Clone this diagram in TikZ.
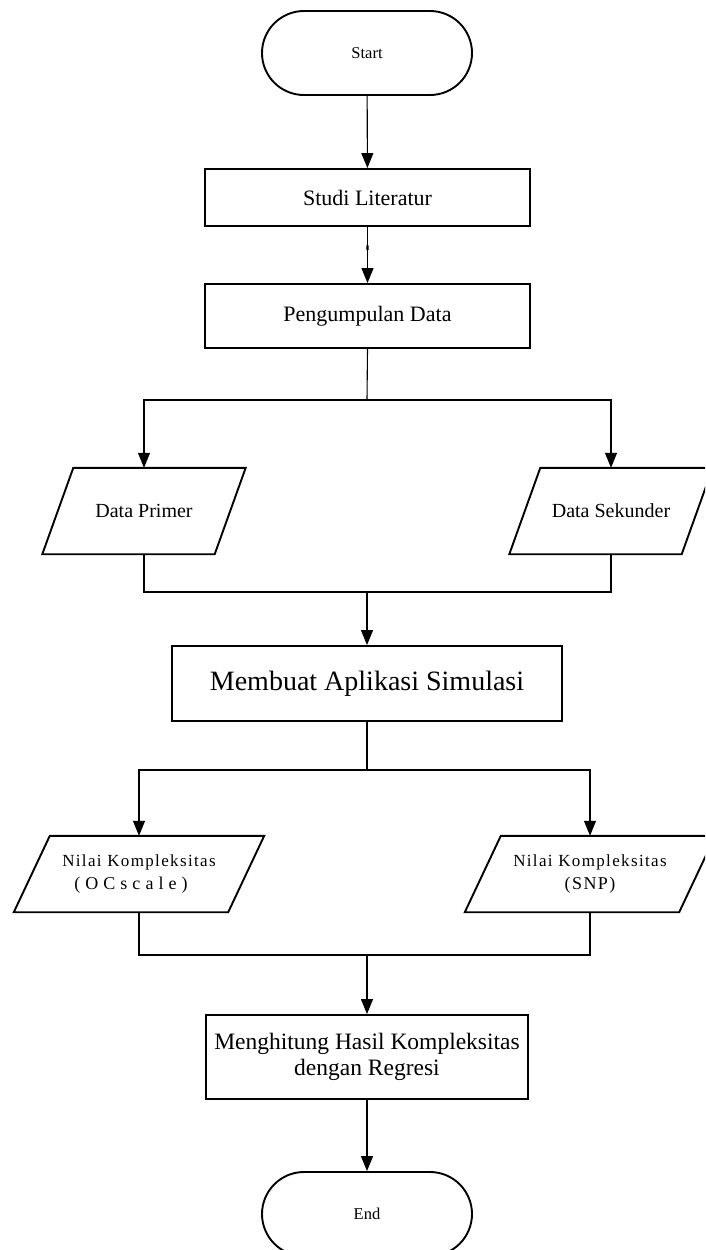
\documentclass[tikz,border=0pt]{standalone}
\usepackage{fontspec}
\setmainfont{Liberation Serif}
\usetikzlibrary{arrows.meta,calc}

\tikzset{
  conn/.style={line width=1.1pt, draw=black},
  flow/.style={conn, -{Triangle[width=12pt,length=15pt]}},
  procbox/.style={draw, line width=1.9pt, rectangle, inner sep=0pt, align=center},
  terminal/.style={draw, line width=1.9pt, rectangle, rounded corners=42pt,
    minimum width=210pt, minimum height=84pt, inner sep=0pt},
  iobox/.style={rectangle, inner sep=0pt, align=center},
  slantline/.style={line width=1.9pt, line join=miter}
}
% parallelogram drawn on the frame of a named node: #1 node, #2 slant
\newcommand{\ioshape}[2]{%
  \draw[slantline] ($(#1.north west)+(#2,0)$) -- (#1.north east)
    -- ($(#1.south east)-(#2,0)$) -- (#1.south west) -- cycle;}

\begin{document}
\begin{tikzpicture}[x=1pt,y=-1pt]
\useasboundingbox (0,0) rectangle (705,1250);
\clip (0,0) rectangle (705,1250);

% terminals and process steps
\node[terminal, font=\fontsize{16.5}{19}\selectfont] (start) at (367,53) {Start};
\node[procbox, minimum width=325pt, minimum height=57pt,
      font=\fontsize{22}{26}\selectfont] (studi) at (367.5,197.5) {Studi Literatur};
\node[procbox, minimum width=325pt, minimum height=64pt,
      font=\fontsize{22}{26}\selectfont] (kumpul) at (367.5,316) {Pengumpulan Data};

% input data
\node[iobox, minimum width=203pt, minimum height=86pt,
      font=\fontsize{20}{24}\selectfont] (primer) at (144,511) {Data Primer};
\node[iobox, minimum width=203pt, minimum height=86pt,
      font=\fontsize{20}{24}\selectfont] (sekunder) at (611,511) {Data Sekunder};
\ioshape{primer}{31}
\ioshape{sekunder}{31}

\node[procbox, minimum width=390pt, minimum height=75pt,
      font=\fontsize{28}{32}\selectfont] (aplikasi) at (367,683.5) {Membuat Aplikasi Simulasi};

% complexity values
\node[iobox, minimum width=250pt, minimum height=76pt,
      font=\fontsize{17}{23}\selectfont] (ocscale) at (139,874)
  {{\addfontfeatures{LetterSpace=8}Nilai Kompleksitas}\\
   \hspace*{-16pt}{\fontsize{18}{23}\selectfont\addfontfeatures{LetterSpace=28}(OCscale)}};
\node[iobox, minimum width=250pt, minimum height=76pt,
      font=\fontsize{17}{23}\selectfont] (snp) at (590,874)
  {{\addfontfeatures{LetterSpace=8}Nilai Kompleksitas}\\
   {\fontsize{18}{23}\selectfont\addfontfeatures{LetterSpace=8}(SNP)}};
\ioshape{ocscale}{36}
\ioshape{snp}{36}

\node[procbox, minimum width=322pt, minimum height=84pt,
      font=\fontsize{23.5}{25.5}\selectfont] (hitung) at (367,1057)
  {Menghitung Hasil Kompleksitas\\dengan Regresi};
\node[terminal, font=\fontsize{16.5}{19}\selectfont] (end) at (367,1214) {End};

% junction points
\coordinate (split1) at (367,400);
\coordinate (join1) at (367,592);
\coordinate (split2) at (367,770);
\coordinate (join2) at (367,955);

% connectors
\draw[flow] (start) -- (studi);
\draw[flow] (studi) -- (kumpul);
\draw[line width=2.4pt] ($(studi.south)!0.33!(kumpul.north)$) -- ($(studi.south)!0.41!(kumpul.north)$);

\draw[conn] (kumpul.south) -- (split1);
\draw[flow] (split1) -| (primer.north);
\draw[flow] (split1) -| (sekunder.north);

\draw[conn] (primer.south) -- (primer.south |- join1) -- (sekunder.south |- join1) -- (sekunder.south);
\draw[flow] (join1) -- (aplikasi.north);

\draw[conn] (aplikasi.south) -- (split2);
\draw[flow] (split2) -| (ocscale.north);
\draw[flow] (split2) -| (snp.north);

\draw[conn] (ocscale.south) -- (ocscale.south |- join2) -- (snp.south |- join2) -- (snp.south);
\draw[flow] (join2) -- (hitung.north);

\draw[flow] (hitung) -- (end);
\end{tikzpicture}
\end{document}
